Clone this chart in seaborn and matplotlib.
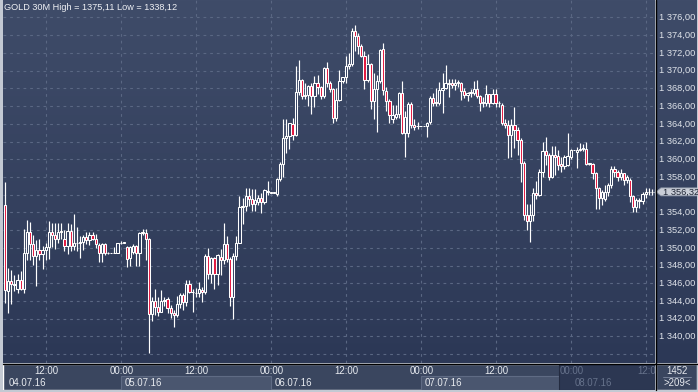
import numpy as np
import matplotlib
matplotlib.use("Agg")
import matplotlib.pyplot as plt
import seaborn as sns
from matplotlib.patches import Rectangle, Polygon
from matplotlib.colors import LinearSegmentedColormap

# ---------------- data (30-minute GOLD candles) ----------------
opens = [1354.8, 1345.1, 1346.3, 1345.9, 1345.4, 1346.4, 1345.4, 1349.4, 1351.8, 1350.4,
         1349.1, 1349.8, 1349.3, 1349.8, 1350.1, 1351.8, 1351.5, 1351.0, 1351.8, 1351.0,
         1350.2, 1351.9, 1350.2, 1350.5, 1350.6, 1350.7, 1351.2, 1350.9, 1351.4, 1351.0,
         1350.3, 1349.4, 1350.4, 1349.4, 1349.4, 1349.4, 1349.4, 1350.5, 1350.6, 1350.1,
         1348.8, 1349.5, 1350.2, 1349.4, 1351.7, 1351.7, 1351.0, 1342.5, 1344.0, 1343.3,
         1342.8, 1344.0, 1344.2, 1343.2, 1342.6, 1342.4, 1343.7, 1344.7, 1343.9, 1345.9,
         1345.0, 1344.9, 1344.9, 1345.3, 1345.0, 1349.1, 1347.1, 1348.8, 1347.1, 1349.0,
         1348.6, 1350.4, 1348.7, 1344.5, 1349.1, 1350.6, 1354.6, 1354.7, 1355.8, 1355.5,
         1355.0, 1355.2, 1355.6, 1355.2, 1356.3, 1356.2, 1356.2, 1356.1, 1357.8, 1359.5,
         1362.4, 1362.6, 1364.0, 1362.7, 1367.6, 1369.0, 1367.1, 1367.3, 1368.3, 1367.1,
         1368.6, 1368.2, 1367.1, 1370.3, 1368.6, 1367.9, 1364.7, 1366.7, 1368.8, 1369.3,
         1370.5, 1370.8, 1374.5, 1373.9, 1372.8, 1371.7, 1369.0, 1370.8, 1366.6, 1367.9,
         1368.8, 1372.4, 1367.7, 1366.6, 1364.6, 1364.8, 1365.1, 1367.5, 1363.0, 1363.0,
         1366.2, 1363.9, 1363.7, 1363.7, 1363.7, 1363.7, 1364.2, 1366.9, 1366.5, 1366.3,
         1367.8, 1368.0, 1368.6, 1368.6, 1368.4, 1368.6, 1368.6, 1367.7, 1367.2, 1367.5,
         1367.5, 1367.9, 1367.1, 1366.4, 1366.4, 1367.4, 1366.4, 1367.4, 1366.4, 1366.1,
         1364.1, 1363.9, 1362.7, 1363.9, 1363.3, 1362.2, 1359.6, 1353.7, 1353.0, 1353.7,
         1356.2, 1356.0, 1358.6, 1360.9, 1360.5, 1358.0, 1360.5, 1360.4, 1359.5, 1359.2,
         1359.4, 1360.3, 1361.0, 1360.8, 1361.1, 1361.2, 1361.2, 1359.5, 1359.5, 1358.4,
         1356.7, 1355.6, 1355.5, 1356.3, 1357.1, 1358.9, 1358.6, 1358.0, 1358.4, 1357.7,
         1357.7, 1355.8, 1354.6, 1355.4, 1355.3, 1356.1, 1356.3, 1356.3, 1356.3]
highs = [1357.4, 1347.7, 1347.5, 1346.9, 1347.1, 1347.4, 1352.1, 1353.1, 1352.9, 1351.5,
         1350.9, 1351.0, 1350.2, 1350.5, 1353.0, 1352.8, 1352.8, 1352.8, 1352.8, 1352.0,
         1352.8, 1352.7, 1353.8, 1352.4, 1351.3, 1351.5, 1351.8, 1351.8, 1351.8, 1351.6,
         1350.6, 1350.6, 1350.6, 1349.5, 1349.4, 1350.1, 1350.6, 1350.8, 1350.6, 1350.2,
         1350.2, 1350.4, 1350.3, 1351.8, 1352.1, 1352.1, 1351.1, 1344.4, 1345.4, 1344.5,
         1345.2, 1344.5, 1344.5, 1343.6, 1343.0, 1344.6, 1344.9, 1344.9, 1346.4, 1346.4,
         1345.4, 1345.5, 1346.1, 1345.6, 1349.3, 1350.0, 1349.0, 1349.0, 1349.3, 1349.9,
         1352.8, 1351.3, 1349.0, 1349.4, 1351.3, 1355.9, 1355.6, 1356.7, 1356.8, 1356.6,
         1356.6, 1356.0, 1356.2, 1356.6, 1357.5, 1356.2, 1356.2, 1357.9, 1359.7, 1364.6,
         1364.5, 1364.1, 1364.7, 1370.5, 1371.2, 1369.1, 1368.6, 1368.4, 1368.6, 1369.4,
         1369.5, 1368.3, 1370.4, 1371.0, 1368.8, 1368.0, 1368.0, 1370.1, 1369.3, 1371.6,
         1372.0, 1374.8, 1375.11, 1374.2, 1373.0, 1372.2, 1371.9, 1370.9, 1369.7, 1369.5,
         1372.5, 1373.1, 1368.2, 1366.8, 1366.1, 1366.1, 1367.6, 1368.8, 1365.4, 1366.5,
         1366.5, 1364.5, 1364.2, 1363.7, 1363.7, 1364.2, 1367.1, 1367.5, 1368.0, 1368.7,
         1369.7, 1370.6, 1369.1, 1369.1, 1369.1, 1368.9, 1368.7, 1368.0, 1367.6, 1367.9,
         1368.8, 1368.9, 1367.2, 1367.0, 1368.4, 1367.4, 1367.9, 1367.9, 1366.6, 1366.3,
         1364.6, 1364.4, 1364.5, 1365.9, 1363.6, 1362.4, 1359.8, 1355.0, 1355.0, 1356.7,
         1357.5, 1358.9, 1361.9, 1362.5, 1360.7, 1361.5, 1361.5, 1361.0, 1360.3, 1360.5,
         1363.0, 1361.2, 1361.0, 1361.4, 1361.8, 1361.7, 1361.9, 1359.6, 1359.6, 1358.6,
         1356.9, 1356.5, 1357.1, 1357.3, 1359.2, 1359.2, 1358.8, 1358.9, 1358.5, 1358.2,
         1357.9, 1356.0, 1355.6, 1355.6, 1356.3, 1356.7, 1356.7, 1356.6, 1356.6]
lows = [1343.8, 1342.7, 1343.7, 1345.1, 1344.9, 1345.2, 1344.9, 1348.6, 1348.6, 1348.1,
        1345.7, 1348.6, 1347.6, 1348.6, 1348.7, 1350.1, 1349.9, 1350.6, 1351.0, 1349.6,
        1349.3, 1349.6, 1349.8, 1349.6, 1348.8, 1349.8, 1350.4, 1350.3, 1350.9, 1350.0,
        1348.4, 1348.4, 1349.2, 1349.3, 1349.4, 1349.4, 1349.4, 1350.4, 1350.6, 1347.8,
        1348.0, 1349.3, 1348.0, 1348.0, 1351.4, 1348.6, 1338.12, 1341.7, 1342.4, 1342.3,
        1342.8, 1343.4, 1342.7, 1342.1, 1341.1, 1342.2, 1343.2, 1343.0, 1343.4, 1344.9,
        1342.8, 1344.5, 1344.5, 1343.9, 1344.8, 1346.5, 1346.0, 1345.4, 1345.8, 1346.9,
        1348.2, 1348.4, 1343.4, 1342.0, 1348.6, 1350.5, 1352.7, 1354.2, 1354.7, 1354.2,
        1354.2, 1354.8, 1353.9, 1354.9, 1356.0, 1356.2, 1356.2, 1355.9, 1357.6, 1358.0,
        1360.7, 1361.2, 1362.2, 1362.6, 1367.2, 1366.8, 1366.8, 1366.0, 1365.1, 1365.9,
        1367.4, 1366.8, 1366.9, 1368.2, 1367.6, 1364.1, 1364.3, 1366.6, 1368.6, 1368.6,
        1370.2, 1370.5, 1372.2, 1371.9, 1371.5, 1367.9, 1368.7, 1365.7, 1364.6, 1363.1,
        1368.6, 1367.3, 1365.5, 1364.1, 1364.1, 1364.6, 1364.7, 1362.9, 1360.2, 1362.5,
        1363.5, 1363.3, 1363.4, 1363.7, 1363.7, 1362.5, 1364.0, 1366.0, 1366.0, 1366.1,
        1365.2, 1367.9, 1367.0, 1368.0, 1367.8, 1368.2, 1366.7, 1366.9, 1366.6, 1367.0,
        1367.2, 1366.9, 1365.4, 1365.9, 1366.0, 1365.9, 1366.2, 1365.9, 1365.9, 1363.9,
        1363.5, 1360.1, 1360.2, 1361.3, 1360.5, 1357.4, 1353.1, 1352.0, 1350.7, 1353.0,
        1355.5, 1355.8, 1358.0, 1359.3, 1357.7, 1357.9, 1358.2, 1358.8, 1358.6, 1358.9,
        1359.2, 1360.0, 1361.0, 1359.0, 1360.9, 1360.9, 1359.4, 1359.3, 1357.8, 1354.4,
        1354.4, 1354.8, 1355.3, 1355.8, 1356.7, 1358.0, 1357.6, 1357.7, 1357.1, 1357.3,
        1355.2, 1354.0, 1354.1, 1354.5, 1355.0, 1355.6, 1356.0, 1356.0, 1356.1]
closes = [1345.2, 1346.3, 1345.9, 1345.8, 1346.4, 1345.4, 1349.4, 1351.8, 1350.4, 1349.1,
          1349.8, 1349.3, 1349.8, 1350.1, 1351.8, 1351.5, 1351.0, 1351.8, 1351.9, 1350.2,
          1351.9, 1350.2, 1350.5, 1350.6, 1350.7, 1351.2, 1350.9, 1351.4, 1351.0, 1350.4,
          1349.4, 1350.4, 1349.4, 1349.4, 1349.4, 1349.4, 1350.5, 1350.6, 1350.6, 1348.7,
          1350.1, 1350.2, 1349.4, 1351.7, 1351.8, 1351.0, 1342.5, 1344.0, 1343.3, 1342.8,
          1344.0, 1344.1, 1343.2, 1342.6, 1342.4, 1343.7, 1344.7, 1343.9, 1345.9, 1345.0,
          1345.0, 1344.9, 1345.4, 1345.0, 1349.1, 1347.1, 1348.8, 1347.1, 1349.2, 1348.6,
          1350.4, 1348.7, 1344.5, 1349.1, 1350.6, 1354.6, 1354.7, 1355.8, 1355.5, 1355.0,
          1355.4, 1355.6, 1355.2, 1356.5, 1356.4, 1356.2, 1356.2, 1357.8, 1359.5, 1362.4,
          1362.6, 1364.1, 1362.7, 1367.6, 1369.0, 1367.1, 1367.3, 1368.3, 1367.1, 1368.6,
          1368.2, 1367.1, 1370.3, 1368.6, 1367.9, 1364.7, 1366.7, 1368.8, 1369.3, 1370.5,
          1370.8, 1374.5, 1373.9, 1372.8, 1371.7, 1369.0, 1370.8, 1366.6, 1367.9, 1368.8,
          1372.3, 1367.8, 1366.6, 1365.0, 1365.0, 1365.1, 1367.5, 1363.0, 1364.8, 1366.2,
          1363.9, 1363.6, 1363.7, 1363.7, 1363.7, 1364.1, 1366.9, 1366.3, 1366.3, 1367.8,
          1368.0, 1368.6, 1368.5, 1368.4, 1368.6, 1368.7, 1367.7, 1367.2, 1367.5, 1367.6,
          1367.9, 1367.1, 1366.4, 1366.4, 1367.4, 1366.4, 1367.4, 1366.4, 1366.3, 1364.1,
          1363.9, 1362.7, 1363.9, 1363.3, 1362.2, 1359.6, 1353.7, 1353.0, 1353.7, 1356.2,
          1356.0, 1358.6, 1360.9, 1360.5, 1358.0, 1360.5, 1360.2, 1359.4, 1359.2, 1360.2,
          1360.4, 1361.0, 1361.0, 1361.1, 1361.2, 1361.3, 1359.5, 1359.5, 1358.4, 1356.7,
          1355.6, 1356.3, 1356.3, 1357.1, 1358.9, 1358.6, 1358.0, 1358.4, 1357.7, 1358.0,
          1355.8, 1354.6, 1355.4, 1355.3, 1356.1, 1356.3, 1356.3, 1356.32, 1356.32]

price_ticks = [1340, 1342, 1344, 1346, 1348, 1350, 1352, 1354, 1358,
               1360, 1362, 1364, 1366, 1368, 1370, 1372, 1374, 1376]
time_labels = ["12:00", "00:00", "12:00", "00:00", "12:00", "00:00", "12:00", "00:00", "12:0"]
date_labels = ["04.07.16", "05.07.16", "06.07.16", "07.07.16", "08.07.16"]
title_text = "GOLD 30M High = 1375,11 Low = 1338,12"
last_price = 1356.32
last_price_text = "1 356,32"
bars_total = "1452"
bars_visible = ">209<"

# ---------------- styling ----------------
sns.set_theme(style="dark", rc={"axes.edgecolor": "none", "axes.grid": False})
plt.rcParams["font.family"] = ["Liberation Sans", "DejaVu Sans"]

W, H = 698, 392
fig = plt.figure(figsize=(W / 100, H / 100), dpi=100)
fig.patch.set_facecolor("#c3c9d3")


def px_axes(x0, y0, x1, y1):
    ax = fig.add_axes([x0 / W, 1 - y1 / H, (x1 - x0) / W, (y1 - y0) / H])
    ax.set_axis_off()
    return ax


def fx(x):
    return x / W


def fy(y):
    return 1 - y / H


X0_PX, DX_PX = 5.0, 3.125          # candle 0 position, spacing
PLOT_L, PLOT_R, PLOT_T, PLOT_B = 3, 655, 0, 363
Y_REF_PX, Y_REF_P, PX_PER_UNIT = 17.5, 1376.0, 8.86

ylo = Y_REF_P - (PLOT_B - Y_REF_PX) / PX_PER_UNIT
yhi = Y_REF_P + (Y_REF_PX - PLOT_T) / PX_PER_UNIT
xlo = (PLOT_L - X0_PX) / DX_PX
xhi = (PLOT_R - X0_PX) / DX_PX

grad = np.linspace(0, 1, 256).reshape(-1, 1)
bg_cmap = LinearSegmentedColormap.from_list("bg", ["#3f4c69", "#2c3856"])

# ---------------- main chart ----------------
ax = px_axes(PLOT_L, PLOT_T, PLOT_R, PLOT_B)
ax.set_xlim(xlo, xhi)
ax.set_ylim(ylo, yhi)
ax.imshow(grad, cmap=bg_cmap, aspect="auto", extent=(xlo, xhi, ylo, yhi),
          origin="upper", zorder=0)

grid_kw = dict(color="#5a6783", lw=0.8, ls=(0, (2.5, 3.5)), zorder=1)
for p in range(1338, 1378, 2):
    ax.axhline(p, **grid_kw)
grid_idx = [(46.3 + 75 * k - X0_PX) / DX_PX for k in range(9)]
for gx in grid_idx:
    ax.axvline(gx, **grid_kw)

n = len(closes)
idx = np.arange(n)
o = np.array(opens); c = np.array(closes); hi = np.array(highs); lo = np.array(lows)
ax.vlines(idx, lo, hi, color="white", lw=0.85, zorder=2)
bottoms = np.minimum(o, c)
heights = np.maximum(np.abs(c - o), 0.06)
fills = np.where(c < o, "#e3173f", "#334060")
ax.bar(idx, heights, bottom=bottoms, width=0.72, color=fills,
       edgecolor="white", linewidth=0.75, zorder=3)

fig.text(fx(4), fy(8), title_text, color="#eef0f4", fontsize=6.6,
         ha="left", va="center")

# ---------------- right price panel ----------------
axr = px_axes(656, PLOT_T, W - 1, PLOT_B)
axr.set_xlim(0, 1)
axr.set_ylim(ylo, yhi)
axr.imshow(grad, cmap=bg_cmap, aspect="auto", extent=(0, 1, ylo, yhi),
           origin="upper", zorder=0)
for p in price_ticks:
    lbl = f"1 {p - 1000:d},00"
    axr.text(0.08, p, lbl, color="#dfe3ea", fontsize=6.7, ha="left", va="center")

tag_y = last_price
tag = Polygon([[0.0, tag_y], [0.12, tag_y + 0.45], [1.05, tag_y + 0.45],
               [1.05, tag_y - 0.45], [0.12, tag_y - 0.45]], closed=True,
              facecolor="#c9ced7", edgecolor="#8e97a8", lw=0.6, zorder=4)
axr.add_patch(tag)
axr.text(0.16, tag_y, last_price_text, color="#1e2535", fontsize=6.7,
         ha="left", va="center", zorder=5)

# ---------------- bottom time panel ----------------
axb = px_axes(PLOT_L, 364, PLOT_R, 390)
axb.set_xlim(PLOT_L, PLOT_R)
axb.set_ylim(390, 364)
axb.add_patch(Rectangle((PLOT_L, 364), PLOT_R - PLOT_L, 26, facecolor="#3a465f", zorder=0))
axb.add_patch(Rectangle((121.3, 376), 150, 14, facecolor="#4a566f", edgecolor="#5f6b84", lw=0.8, zorder=1))
axb.add_patch(Rectangle((421.3, 376), 137.5, 14, facecolor="#4a566f", edgecolor="#5f6b84", lw=0.8, zorder=1))
axb.add_patch(Rectangle((559, 364), PLOT_R - 559, 26, facecolor="#2c3752", edgecolor="#232b40", lw=0.8, zorder=2))

for k, t in enumerate(time_labels):
    gx = 46.3 + 75 * k
    col = "#e8ebf0" if gx < 559 else "#66728b"
    if gx > 640:
        axb.text(gx - 9, 371, t, color=col, fontsize=6.9, ha="left", va="center", zorder=3, clip_on=True)
    else:
        axb.text(gx, 371, t, color=col, fontsize=6.9, ha="center", va="center", zorder=3)
date_x = [9, 125, 275, 425, 575]
for dx_, d in zip(date_x, date_labels):
    col = "#e8ebf0" if dx_ < 559 else "#66728b"
    axb.text(dx_, 383, d, color=col, fontsize=6.9, ha="left", va="center", zorder=3)

# bottom-right counter box
axc = px_axes(656, 364, W - 1, 390)
axc.set_xlim(656, W - 1)
axc.set_ylim(390, 364)
axc.add_patch(Rectangle((656, 364), W - 657, 26, facecolor="#3a465f", zorder=0))
axc.plot([663, 691], [377, 377], color="#7f8aa0", lw=0.6)
axc.text(677, 371, bars_total, color="#e8ebf0", fontsize=6.9, ha="center", va="center")
axc.text(677, 383, bars_visible, color="#e8ebf0", fontsize=6.9, ha="center", va="center")

# separating lines
fig.add_artist(plt.Line2D([fx(655.5), fx(655.5)], [fy(0), fy(390)], color="black", lw=1.0))
fig.add_artist(plt.Line2D([fx(3), fx(W - 1)], [fy(363.5), fy(363.5)], color="black", lw=1.0))

fig.savefig("out.png", dpi=100, facecolor=fig.get_facecolor())
